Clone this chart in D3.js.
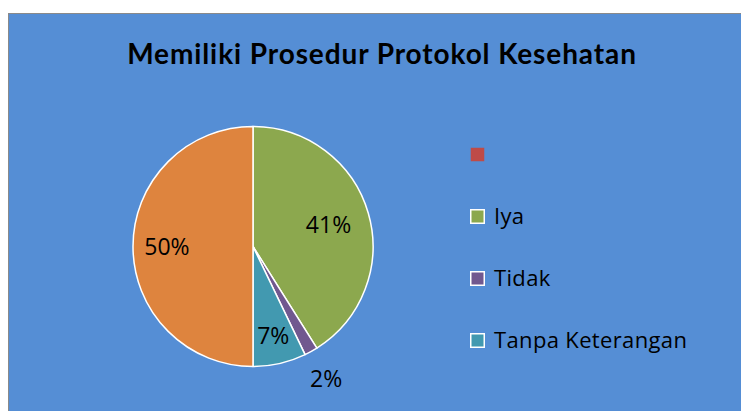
<!DOCTYPE html>
<html><head><meta charset="utf-8">
<script src="https://cdn.jsdelivr.net/npm/d3@7"></script>
<style>html,body{margin:0;padding:0;background:#fff;}svg{display:block;}</style>
</head><body>
<svg id="chart" width="741" height="411"></svg>
<script>
// Data
const title = "Memiliki Prosedur Protokol Kesehatan";
const categories = ["", "Iya", "Tidak", "Tanpa Keterangan", "Lainnya"];
const values = [0, 23, 1, 4, 28];
const legendCategories = ["", "Iya", "Tidak", "Tanpa Keterangan"];
const colors = ["#BE4B48", "#8CA84E", "#71588F", "#4299B0", "#DE843E"];

const svg = d3.select("#chart");
const W = 741, H = 411;
const font = "'Open Sans', Lato, sans-serif";

svg.append("rect").attr("x", 8.5).attr("y", 13.5).attr("width", W).attr("height", H)
  .attr("fill", "#558ED5").attr("stroke", "#8a8a8a").attr("stroke-width", 1);

svg.append("text").attr("x", 382).attr("y", 64).attr("text-anchor", "middle")
  .attr("font-family", "Lato, sans-serif").attr("font-weight", "bold").attr("font-size", 28)
  .attr("letter-spacing", 0.9)
  .attr("fill", "#000").text(title);

const cx = 253, cy = 246.5, r = 120;
const total = d3.sum(values);
const pie = d3.pie().sort(null).value(d => d)(values);
const arc = d3.arc().innerRadius(0).outerRadius(r);
const g = svg.append("g").attr("transform", `translate(${cx},${cy})`);
g.selectAll("path").data(pie).join("path")
  .attr("d", arc).attr("fill", (d, i) => colors[i])
  .attr("stroke", "#fff").attr("stroke-width", 1.5).attr("stroke-linejoin", "round");

const labelRadius = [0.7, 0.655, 1.26, 0.76, 0.717];
g.selectAll("text.lbl").data(pie.filter(d => d.value > 0)).join("text")
  .attr("class", "lbl")
  .attr("transform", d => {
    const i = d.index;
    const a = d3.arc().innerRadius(r * labelRadius[i]).outerRadius(r * labelRadius[i]);
    return `translate(${a.centroid(d)})`;
  })
  .attr("text-anchor", "middle").attr("dy", "0.36em")
  .attr("font-family", font).attr("font-size", 23).attr("fill", "#000")
  .text(d => Math.round(d.value / total * 100) + "%");

const lg = svg.append("g").attr("transform", "translate(470,147)");
const item = lg.selectAll("g").data(legendCategories).join("g")
  .attr("transform", (d, i) => `translate(0,${i * 62})`);
item.append("rect").attr("x", 0.75).attr("y", 0.75).attr("width", 13.5).attr("height", 13.5)
  .attr("fill", (d, i) => colors[i])
  .attr("stroke", (d, i) => i === 0 ? "none" : "#fff").attr("stroke-width", 1.5);
item.append("text").attr("x", 24).attr("y", 7.5).attr("dy", "0.36em")
  .attr("font-family", font).attr("font-size", 22).attr("letter-spacing", 0.35)
  .attr("fill", "#000").text(d => d);
</script>
</body></html>
